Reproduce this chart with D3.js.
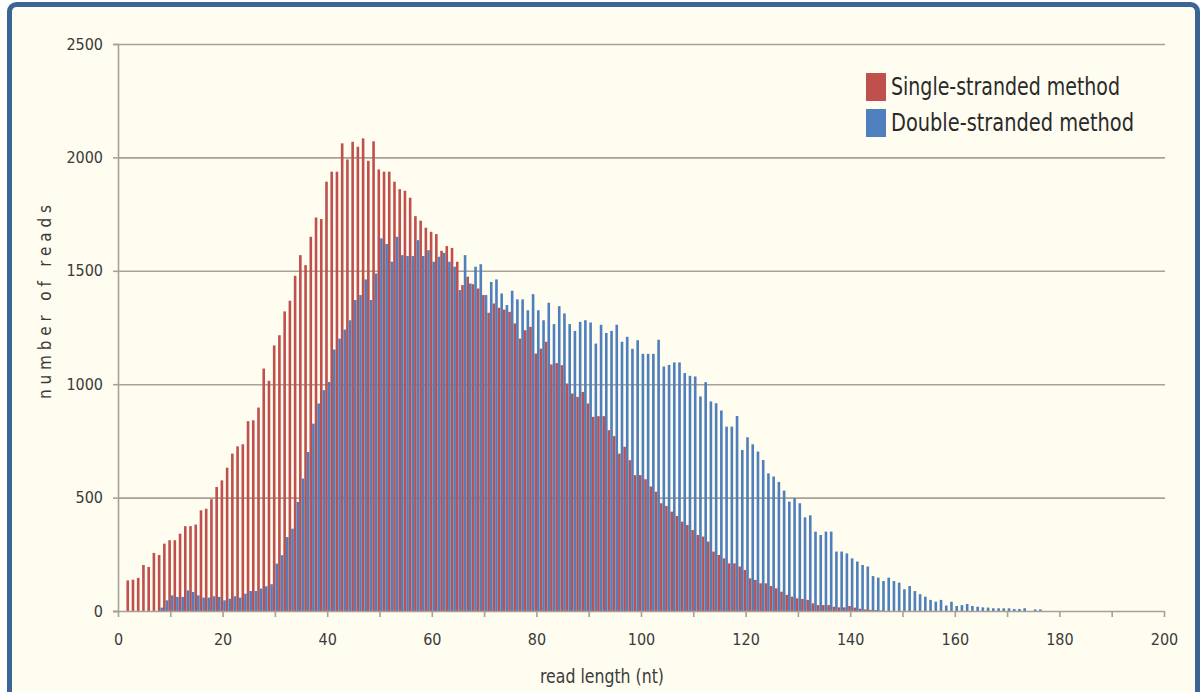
<!DOCTYPE html>
<html>
<head>
<meta charset="utf-8">
<script src="https://d3js.org/d3.v7.min.js"></script>
<style>
  body { margin: 0; background: #ffffff; }
  svg { display: block; }
  .axis text { font-family: "DejaVu Sans Condensed", "Liberation Sans Narrow", sans-serif; font-size: 16px; fill: #3a3a3a; }
</style>
</head>
<body>
<div id="chart"></div>
<script>
// read length histogram, one value per nt starting at 0
let singleStranded = [0, 0, 135, 138, 146, 203, 194, 256, 247, 297,
  312, 312, 341, 374, 374, 381, 444, 451, 493, 547,
  576, 632, 694, 726, 735, 837, 841, 897, 1069, 1015,
  1171, 1216, 1321, 1368, 1478, 1569, 1525, 1650, 1735, 1728,
  1893, 1937, 1937, 2062, 1991, 2069, 2047, 2084, 1985, 2071,
  1947, 1937, 1937, 1893, 1860, 1853, 1822, 1741, 1721, 1690,
  1672, 1662, 1588, 1609, 1601, 1540, 1437, 1474, 1441, 1422,
  1393, 1315, 1356, 1337, 1329, 1319, 1268, 1201, 1238, 1253,
  1135, 1157, 1187, 1087, 1093, 1084, 1003, 959, 944, 966,
  915, 856, 859, 859, 797, 771, 694, 724, 665, 599,
  599, 581, 549, 526, 475, 463, 438, 419, 394, 379,
  357, 335, 328, 306, 262, 247, 232, 210, 210, 196,
  181, 144, 137, 122, 122, 110, 100, 85, 71, 63,
  56, 53, 49, 34, 26, 26, 26, 19, 16, 16,
  22, 15, 10, 7, 5, 4, 2]

let doubleStranded = [0, 0, 0, 0, 0, 0, 0, 0, 15, 47,
  69, 62, 62, 91, 84, 69, 59, 59, 65, 62,
  47, 54, 65, 59, 76, 88, 88, 99, 109, 118,
  209, 246, 326, 363, 481, 584, 701, 826, 915, 974,
  1010, 1153, 1201, 1241, 1282, 1371, 1393, 1462, 1371, 1488,
  1643, 1618, 1540, 1650, 1569, 1565, 1565, 1635, 1565, 1591,
  1540, 1562, 1579, 1540, 1518, 1415, 1569, 1444, 1518, 1529,
  1393, 1451, 1462, 1400, 1349, 1412, 1374, 1374, 1326, 1397,
  1326, 1282, 1359, 1265, 1344, 1312, 1265, 1235, 1275, 1282,
  1272, 1179, 1262, 1226, 1235, 1262, 1187, 1209, 1156, 1194,
  1134, 1134, 1134, 1196, 1078, 1085, 1096, 1096, 1049, 1037,
  1034, 946, 1009, 924, 916, 884, 813, 813, 860, 710,
  766, 735, 703, 666, 607, 593, 569, 531, 482, 497,
  475, 413, 422, 350, 335, 350, 350, 262, 262, 254,
  232, 218, 203, 196, 154, 147, 132, 147, 132, 125,
  96, 110, 88, 74, 63, 49, 41, 49, 24, 41,
  22, 26, 31, 22, 19, 16, 15, 12, 12, 12,
  12, 9, 9, 12, 0, 7, 7]

let seriesNames = ["Single-stranded method", "Double-stranded method"]
let seriesColors = ["#c0504d", "#4f7fbc"]
let xTickLabels = [0, 20, 40, 60, 80, 100, 120, 140, 160, 180, 200]
let xTicks = [0, 10, 20, 30, 40, 50, 60, 70, 80, 90, 100, 110, 120, 130, 140, 150, 160, 170, 180, 190, 200]
let yTicks = [0, 500, 1000, 1500, 2000, 2500]

let width = 1203,
  height = 692
let font = "'DejaVu Sans Condensed', 'Liberation Sans Narrow', sans-serif"

let svg = d3.select("#chart").append("svg")
  .attr("width", width)
  .attr("height", height)

// blue frame with cream paper
svg.append("rect")
  .attr("x", 9.5).attr("y", 4.5)
  .attr("width", 1188).attr("height", 710)
  .attr("rx", 7)
  .attr("fill", "#fffdf0")
  .attr("stroke", "#3b6595")
  .attr("stroke-width", 5)

let x = d3.scaleLinear().domain([0, 200]).range([118, 1164])
let y = d3.scaleLinear().domain([0, 2500]).range([611, 44])

let slot = x(1) - x(0)
let barW = slot / 2

// gridlines
svg.append("g")
  .attr("transform", "translate(118,0)")
  .call(d3.axisLeft(y).tickValues(yTicks.slice(1)).tickSize(-(1165 - 118)).tickFormat(""))
  .call(g => g.select(".domain").remove())
  .call(g => g.selectAll("line").attr("stroke", "#a9a195").attr("stroke-width", 1.6))

// bars, single on the left half of each slot, double on the right half
svg.append("g").selectAll("rect")
  .data(singleStranded)
  .join("rect")
  .attr("x", (d, i) => x(i) - barW + 0.6)
  .attr("width", barW)
  .attr("y", d => y(d))
  .attr("height", d => y(0) - y(d))
  .attr("fill", seriesColors[0])

svg.append("g").selectAll("rect")
  .data(doubleStranded)
  .join("rect")
  .attr("x", (d, i) => x(i) + 0.6)
  .attr("width", barW)
  .attr("y", d => y(d))
  .attr("height", d => y(0) - y(d))
  .attr("fill", seriesColors[1])

// y axis
svg.append("g")
  .attr("class", "axis")
  .attr("transform", "translate(118,0)")
  .call(d3.axisLeft(y).tickValues(yTicks).tickSize(5).tickPadding(10).tickFormat(d3.format("d")))
  .call(g => g.select(".domain").attr("stroke", "#a9a195").attr("stroke-width", 1.6))
  .call(g => g.selectAll("line").attr("stroke", "#a9a195").attr("stroke-width", 1.6))

// x axis
svg.append("g")
  .attr("class", "axis")
  .attr("transform", "translate(0,611)")
  .call(d3.axisBottom(x).tickValues(xTicks).tickSize(6).tickPadding(17)
    .tickFormat(d => xTickLabels.includes(d) ? d : ""))
  .call(g => g.select(".domain").attr("d", "M113,0.5H1165").attr("stroke", "#a9a195").attr("stroke-width", 1.6))
  .call(g => g.selectAll("line").attr("stroke", "#a9a195").attr("stroke-width", 1.6))

// axis titles
svg.append("text")
  .attr("transform", "translate(51,302) rotate(-90)")
  .attr("text-anchor", "middle")
  .attr("font-family", font)
  .attr("font-size", 17)
  .attr("textLength", 194)
  .attr("fill", "#3a3a3a")
  .text("number of reads")

svg.append("text")
  .attr("x", 602).attr("y", 683)
  .attr("text-anchor", "middle")
  .attr("font-family", font)
  .attr("font-size", 19)
  .attr("textLength", 124)
  .attr("lengthAdjust", "spacingAndGlyphs")
  .attr("fill", "#3a3a3a")
  .text("read length (nt)")

// legend
let legendWidths = [229, 243]
let legend = svg.append("g").attr("transform", "translate(866,73)")
seriesNames.forEach((name, i) => {
  legend.append("rect")
    .attr("x", 0).attr("y", i * 36)
    .attr("width", 20).attr("height", 28)
    .attr("fill", seriesColors[i])
  legend.append("text")
    .attr("x", 25).attr("y", i * 36 + 22)
    .attr("font-family", font)
    .attr("font-size", 25)
    .attr("textLength", legendWidths[i])
    .attr("lengthAdjust", "spacingAndGlyphs")
    .attr("fill", "#2a2a2a")
    .text(name)
})
</script>
</body>
</html>
